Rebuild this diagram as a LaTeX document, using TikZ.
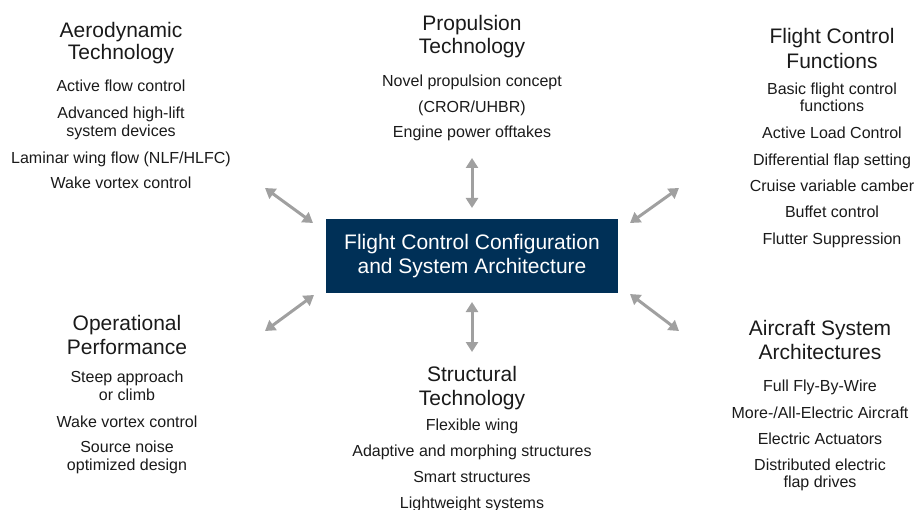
\documentclass[tikz,border=0pt]{standalone}
\usepackage{fontspec}
\setmainfont{Liberation Sans}
\usetikzlibrary{arrows.meta}
\definecolor{navy}{HTML}{003057}
\definecolor{arrowgray}{HTML}{A0A0A0}
\definecolor{ink}{HTML}{1A1A1A}
\begin{document}
\begin{tikzpicture}[x=1pt,y=-1pt,
  head/.style={anchor=base,inner sep=0pt,text=ink,font=\fontsize{21}{24}\selectfont},
  body/.style={anchor=base,inner sep=0pt,text=ink,font=\fontsize{16}{18}\selectfont},
  link/.style={arrowgray,line width=3pt,
    {Triangle[length=10pt,width=12pt]}-{Triangle[length=10pt,width=12pt]}},
  core/.style={fill=navy,text=white,minimum width=292pt,minimum height=74pt,
    align=center,inner sep=0pt,font=\fontsize{21}{24}\selectfont}]
\useasboundingbox (0,0) rectangle (917,510);

% central block
\node[core] (hub) at (472,256) {Flight Control Configuration\\and System Architecture};

% Aerodynamic Technology
\foreach \y/\t [count=\i] in {38/{Aerodynamic},60/{Technology}}
  \node[head] (aeroh\i) at (121,\y) {\t};
\foreach \y/\t [count=\i] in {92/{Active flow control},119/{Advanced high-lift},
  137/{system devices},164/{Laminar wing flow (NLF/HLFC)},189/{Wake vortex control}}
  \node[body] (aero\i) at (121,\y) {\t};

% Propulsion Technology
\foreach \y/\t [count=\i] in {31/{Propulsion},54/{Technology}}
  \node[head] (proph\i) at (472,\y) {\t};
\foreach \y/\t [count=\i] in {87/{Novel propulsion concept},113/{(CROR/UHBR)},
  138/{Engine power offtakes}}
  \node[body] (prop\i) at (472,\y) {\t};

% Flight Control Functions
\foreach \y/\t [count=\i] in {44/{Flight Control},69/{Functions}}
  \node[head] (fcfh\i) at (832,\y) {\t};
\foreach \y/\t [count=\i] in {95/{Basic flight control},112/{functions},
  139/{Active Load Control},166/{Differential flap setting},
  192/{Cruise variable camber},218/{Buffet control},245/{Flutter Suppression}}
  \node[body] (fcf\i) at (832,\y) {\t};

% Operational Performance
\foreach \y/\t [count=\i] in {330/{Operational},354/{Performance}}
  \node[head] (oph\i) at (127,\y) {\t};
\foreach \y/\t [count=\i] in {382/{Steep approach},400/{or climb},
  427/{Wake vortex control},452/{Source noise},470/{optimized design}}
  \node[body] (op\i) at (127,\y) {\t};

% Structural Technology
\foreach \y/\t [count=\i] in {381/{Structural},405/{Technology}}
  \node[head] (sth\i) at (472,\y) {\t};
\foreach \y/\t [count=\i] in {430/{Flexible wing},456/{Adaptive and morphing structures},
  482/{Smart structures},508/{Lightweight systems}}
  \node[body] (st\i) at (472,\y) {\t};

% Aircraft System Architectures
\foreach \y/\t [count=\i] in {335/{Aircraft System},359/{Architectures}}
  \node[head] (ash\i) at (820,\y) {\t};
\foreach \y/\t [count=\i] in {391/{Full Fly-By-Wire},418/{More-/All-Electric Aircraft},
  444/{Electric Actuators},470/{Distributed electric},487/{flap drives}}
  \node[body] (as\i) at (820,\y) {\t};

% arrow end points
\coordinate (nA) at (472,158);  \coordinate (nB) at (472,208);
\coordinate (sA) at (472,352);  \coordinate (sB) at (472,302);
\coordinate (nwA) at (265,188); \coordinate (nwB) at (313,223);
\coordinate (neA) at (679,188); \coordinate (neB) at (630,223);
\coordinate (swA) at (265,331); \coordinate (swB) at (314,295);
\coordinate (seA) at (679,331); \coordinate (seB) at (630,294);

\draw[link] (nA) -- (nB);
\draw[link] (sA) -- (sB);
\draw[link] (nwA) -- (nwB);
\draw[link] (neA) -- (neB);
\draw[link] (swA) -- (swB);
\draw[link] (seA) -- (seB);
\end{tikzpicture}
\end{document}
